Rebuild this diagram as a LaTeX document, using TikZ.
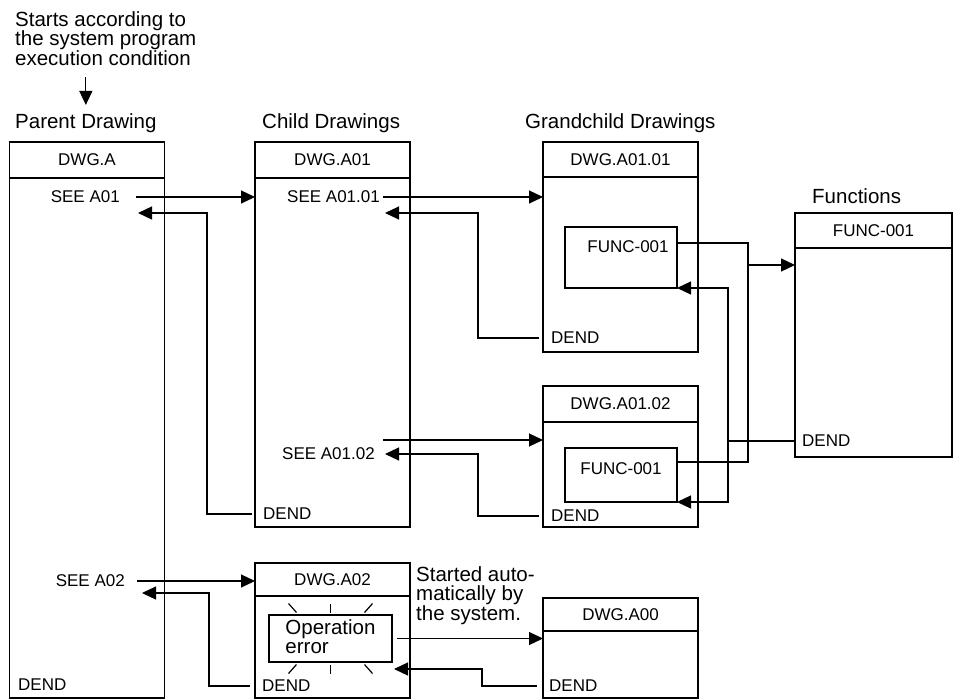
\documentclass[tikz,border=0pt]{standalone}
\usepackage{fontspec}
\setmainfont{Liberation Sans}
\usetikzlibrary{positioning, arrows.meta}

\begin{document}
\begin{tikzpicture}[
  x=1pt, y=-1pt,
  hd/.style={draw, line width=1.3pt, outer sep=0pt, minimum width=155pt, font=\fontsize{17}{19}\selectfont},
  bd/.style={draw, line width=1.3pt, outer sep=0pt, minimum width=155pt},
  fbox/.style={draw, line width=1.3pt, outer sep=0pt},
  lbl/.style={inner sep=0pt, font=\fontsize{17}{19}\selectfont},
  ttl/.style={inner sep=0pt, font=\fontsize{20.5}{19.5}\selectfont, align=left},
  arrow/.style={-{Triangle[length=14pt, width=13pt]}, line width=1.2pt},
  link/.style={line width=1.2pt}]

  \useasboundingbox (0,0) rectangle (957,700);

  % column titles
  \node[ttl, anchor=north west] (startTxt) at (15,11) {Starts according to\\the system program\\execution condition};
  \node[ttl, anchor=base west] (parentHd) at (15,129) {Parent Drawing};
  \node[ttl, anchor=base west] (childHd) at (262,129) {Child Drawings};
  \node[ttl, anchor=base west] (grandHd) at (525,129) {Grandchild Drawings};
  \node[ttl, anchor=base west] (funcHd) at (812,204) {Functions};

  % parent drawing
  \node[hd, minimum height=36pt] (Ahd) at (87,160) {DWG.A};
  \node[bd, minimum height=520pt, below=0pt of Ahd] (Abd) {};
  \node[lbl, anchor=east] (seeA01) at (120,197) {SEE A01};
  \node[lbl, anchor=east] (seeA02) at (125,581) {SEE A02};
  \node[lbl, anchor=west] (Adend) at (18,685) {DEND};

  % child drawings
  \node[hd, minimum height=36pt] (A01hd) at (332.5,160) {DWG.A01};
  \node[bd, minimum height=349pt, below=0pt of A01hd] (A01bd) {};
  \node[lbl, anchor=east] (seeA0101) at (380,197) {SEE A01.01};
  \node[lbl, anchor=east] (seeA0102) at (375,454) {SEE A01.02};
  \node[lbl, anchor=west] (A01dend) at (263,514) {DEND};

  \node[hd, minimum height=33pt] (A02hd) at (332.5,579.5) {DWG.A02};
  \node[bd, minimum height=102pt, below=0pt of A02hd] (A02bd) {};
  \node[fbox, ttl, inner sep=2pt, text depth=4pt, minimum width=123pt, minimum height=47pt] (opErr) at (330.5,638.5) {Operation\\error};
  \node[lbl, anchor=west] (A02dend) at (262,686) {DEND};
  \node[ttl, anchor=north west] (autoTxt) at (416,566) {Started auto-\\matically by\\the system.};

  % grandchild drawings
  \node[hd, minimum height=35pt] (G1hd) at (620.5,159.5) {DWG.A01.01};
  \node[bd, minimum height=175pt, below=0pt of G1hd] (G1bd) {};
  \node[fbox, minimum width=112pt, minimum height=61pt] (fn1) at (621,257.5) {};
  \node[lbl] (fn1txt) at ([xshift=7pt, yshift=10.5pt]fn1.center) {FUNC-001};
  \node[lbl, anchor=west] (G1dend) at (551,338) {DEND};

  \node[hd, minimum height=36pt] (G2hd) at (620.5,404) {DWG.A01.02};
  \node[bd, minimum height=105pt, below=0pt of G2hd] (G2bd) {};
  \node[fbox, minimum width=112pt, minimum height=54pt] (fn2) at (621,475) {};
  \node[lbl] (fn2txt) at ([yshift=6pt]fn2.center) {FUNC-001};
  \node[lbl, anchor=west] (G2dend) at (551,516) {DEND};

  \node[hd, minimum height=33pt] (A00hd) at (620.5,614.5) {DWG.A00};
  \node[bd, minimum height=67pt, below=0pt of A00hd] (A00bd) {};
  \node[lbl, anchor=west] (A00dend) at (549,686) {DEND};

  % functions
  \node[hd, minimum width=157pt, minimum height=35pt] (Fhd) at (873.5,230.5) {FUNC-001};
  \node[bd, minimum width=157pt, minimum height=209pt, below=0pt of Fhd] (Fbd) {};
  \node[lbl, anchor=west] (Fdend) at (802,441) {DEND};

  % start condition
  \draw[arrow] ([yshift=-12pt]startTxt.south -| parentHd.north) -- ([yshift=9pt]parentHd.north);

  % parent <-> child
  \draw[arrow] ([xshift=16pt]seeA01.east) -- (seeA01.east -| A01bd.west);
  \draw[arrow] ([xshift=-11pt]A01dend.west) -- ++(-45,0) |- ([xshift=18pt, yshift=-16pt]seeA01.east);
  \draw[arrow] ([xshift=12pt]seeA02.east) -- (seeA02.east -| A02hd.west);
  \draw[arrow] ([xshift=-12pt]A02dend.west) -- ++(-41,0) |- ([xshift=17pt, yshift=-12pt]seeA02.east);

  % child <-> grandchild
  \draw[arrow] ([xshift=3pt]seeA0101.east) -- (seeA0101.east -| G1bd.west);
  \draw[arrow] ([xshift=-12pt]G1dend.west) -- ++(-61,0) |- ([xshift=5pt, yshift=-16pt]seeA0101.east);
  \draw[arrow] ([xshift=8pt, yshift=14pt]seeA0102.east) -- ([yshift=14pt]seeA0102.east -| G2bd.west);
  \draw[arrow] ([xshift=-12pt]G2dend.west) -- ++(-61,0) |- ([xshift=10pt]seeA0102.east);

  % grandchild <-> functions
  \draw[link] ([yshift=-16pt]fn1.north east) -- ++(71,0) coordinate (jn) |- ([yshift=-14pt]fn2.north east);
  \draw[arrow] ([yshift=-22pt]jn) -- ([yshift=-22pt]jn -| Fbd.west);
  \draw[arrow] (Fdend.west -| Fbd.west) -- ++(-67,0) coordinate (rt) |- (fn1.south east);
  \draw[arrow] (rt) |- (fn2.south east);

  % operation error -> system drawing
  \draw[arrow] ([xshift=5pt]opErr.east) -- (opErr.east -| A00bd.west);
  \draw[arrow] ([xshift=-12pt]A00dend.west) -- ++(-55,0) |- ([xshift=2pt, yshift=-7pt]opErr.south east);
  \foreach \sx/\sy in {-1/-1, 1/-1, -1/1, 1/1}
    \draw[link] ([shift={(42*\sx,35*\sy)}]opErr.center) -- ([shift={(34*\sx,26*\sy)}]opErr.center);
  \foreach \sy in {-1,1}
    \draw[link] ([shift={(0,35*\sy)}]opErr.center) -- ([shift={(0,26*\sy)}]opErr.center);
\end{tikzpicture}
\end{document}
